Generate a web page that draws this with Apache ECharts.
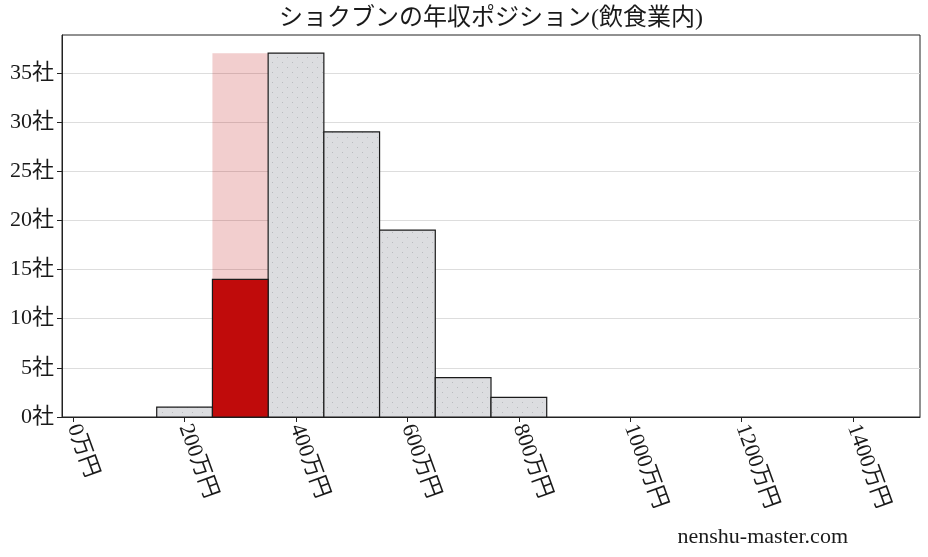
<!DOCTYPE html>
<html>
<head>
<meta charset="utf-8">
<script src="https://cdn.jsdelivr.net/npm/echarts@6/dist/echarts.min.js"></script>
<style>html,body{margin:0;padding:0;background:#fff}#c{width:928px;height:557px}</style>
</head>
<body>
<div id="c"></div>
<script>
var titleText = 'ショクブンの年収ポジション(飲食業内)';
var watermark = 'nenshu-master.com';
var binStarts = [150, 250, 350, 450, 550, 650, 750];
var binEnds   = [250, 350, 450, 550, 650, 750, 850];
var counts    = [1, 14, 37, 29, 19, 4, 2];
var highlightIndex = 1;
var xTicks = [0, 200, 400, 600, 800, 1000, 1200, 1400];
var yTicks = [0, 5, 10, 15, 20, 25, 30, 35];

var FONT = "'Liberation Serif', 'Noto Sans CJK JP', serif";

// dotted pattern for gray bars
var pc = document.createElement('canvas');
pc.width = 10; pc.height = 10;
var pctx = pc.getContext('2d');
pctx.fillStyle = '#dcdde0';
pctx.fillRect(0, 0, 10, 10);
pctx.fillStyle = '#b9bbbf';
pctx.fillRect(2, 2, 1, 1);
pctx.fillRect(7, 7, 1, 1);

var maxCount = Math.max.apply(null, counts);
var grayData = [], redData = [], bandData = [];
for (var i = 0; i < counts.length; i++) {
  if (i === highlightIndex) {
    redData.push([binStarts[i], binEnds[i], counts[i]]);
    bandData.push([binStarts[i], binEnds[i], maxCount]);
  } else {
    grayData.push([binStarts[i], binEnds[i], counts[i]]);
  }
}

function makeRender(fill, stroke, lw) {
  return function (params, api) {
    var p0 = api.coord([api.value(0), api.value(2)]);
    var p1 = api.coord([api.value(1), 0]);
    return {
      type: 'rect',
      shape: { x: p0[0], y: p0[1], width: p1[0] - p0[0], height: p1[1] - p0[1] },
      style: { fill: fill, stroke: stroke, lineWidth: lw }
    };
  };
}

var chart = echarts.init(document.getElementById('c'));
chart.setOption({
  animation: false,
  grid: { left: 62, right: 8, top: 35, bottom: 140, show: true, borderColor: '#222', borderWidth: 1, backgroundColor: 'transparent' },
  xAxis: {
    type: 'value', min: -20, max: 1520,
    axisLine: { show: true, onZero: false, lineStyle: { color: '#222', width: 1 } },
    axisTick: { show: true, inside: false, customValues: xTicks, length: 5, lineStyle: { color: '#222' } },
    axisLabel: { customValues: xTicks, rotate: -70, margin: 8, color: '#1a1a1a', fontSize: 22, fontFamily: FONT,
      formatter: function (v) { return v + '万円'; } },
    splitLine: { show: false }
  },
  yAxis: {
    type: 'value', min: 0, max: 38.85, interval: 5,
    axisLine: { show: true, onZero: false, lineStyle: { color: '#222', width: 1 } },
    axisTick: { show: true, inside: false, customValues: yTicks, length: 5, lineStyle: { color: '#222' } },
    axisLabel: { color: '#1a1a1a', fontSize: 22, fontFamily: FONT, margin: 8,
      customValues: yTicks,
      formatter: function (v) { return v + '社'; } },
    splitLine: { show: true, lineStyle: { color: '#dddddd', width: 1 } }
  },
  graphic: [
    { type: 'text', x: 491, y: 19, style: { text: titleText, fill: '#1a1a1a', font: '24px ' + FONT, textAlign: 'center', textVerticalAlign: 'middle' } },
    { type: 'text', x: 848, y: 537, style: { text: watermark, fill: '#1a1a1a', font: '22px ' + FONT, textAlign: 'right', textVerticalAlign: 'middle' } }
  ],
  series: [
    { type: 'custom', renderItem: makeRender('rgba(192,10,10,0.2)', null, 0), data: bandData, encode: { x: [0, 1], y: 2 }, z: 1 },
    { type: 'custom', renderItem: makeRender({ image: pc, repeat: 'repeat' }, '#1a1a1a', 1.2), data: grayData, encode: { x: [0, 1], y: 2 }, z: 2 },
    { type: 'custom', renderItem: makeRender('#c00b0b', '#1a1a1a', 1.2), data: redData, encode: { x: [0, 1], y: 2 }, z: 3 }
  ]
});
</script>
</body>
</html>
